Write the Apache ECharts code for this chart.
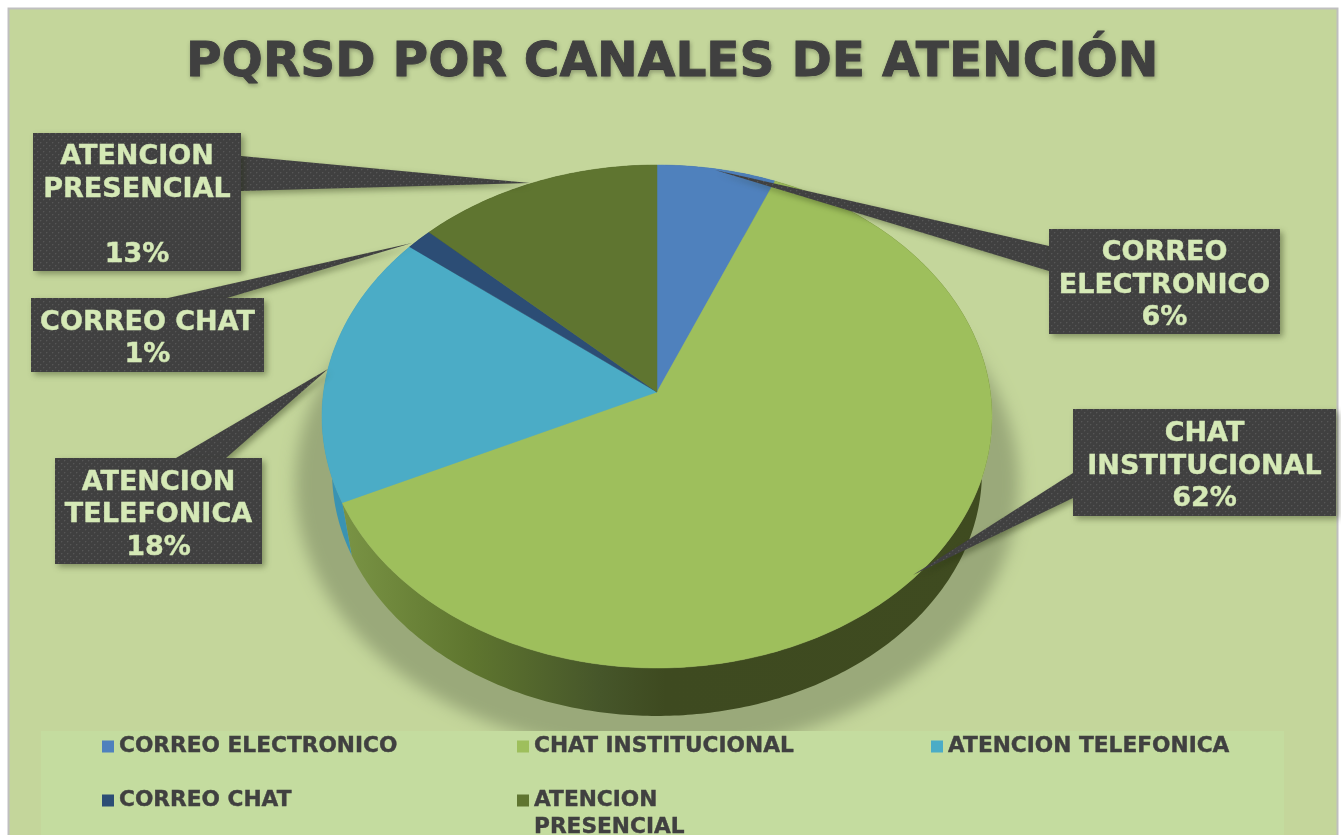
<!DOCTYPE html>
<html><head><meta charset="utf-8">
<style>html,body{margin:0;padding:0;background:#fff;overflow:hidden}#c{width:1341px;height:835px}</style>
<script src="https://cdn.jsdelivr.net/npm/echarts@6/dist/echarts.min.js"></script>
</head><body><div id="c"></div>
<script>
const titleText = 'PQRSD POR CANALES DE ATENCIÓN';
const categories = ['CORREO ELECTRONICO','CHAT INSTITUCIONAL','ATENCION TELEFONICA','CORREO CHAT','ATENCION PRESENCIAL'];
const values = [6.3, 61.7, 17.6, 1.4, 13.0];
const calloutNames = ['CORREO\nELECTRONICO','CHAT\nINSTITUCIONAL','ATENCION\nTELEFONICA','CORREO CHAT','ATENCION\nPRESENCIAL\n'];
const topColors = ['#4f81bd','#9ebf5c','#4bacc6','#2c4d75','#5f7530'];
const sideColors = ['#2f5a8e','#3f4b20','#3a93b2','#1d3553','#3f4b20'];
const boxes = [[1049,229,231,105],[1073,409,263,107],[55,458,207,106],[31,298,233,74],[33,133,208,138]];
const tails = [
  [[1049,246],[1049,271],[715,170]],
  [[1073,473],[1073,498],[913,575]],
  [[176,458],[226,458],[328,369]],
  [[168,298],[227,298],[412,243]],
  [[241,156],[241,191],[530,183]]
];
const legendSlots = [[102,732],[517,732],[931,732],[102,786],[517,759]];

// Pie geometry (perspective projection of a circle)
const cx=657, cy=392, A=333.4, B=249.1, P=0.0974;
const ecy=416.5, botCy=472, botS=0.97;
function rim(f){const a=2*Math.PI*f,u=Math.sin(a),v=-Math.cos(a),d=1-P*v;return [cx+A*u/d,cy+B*v/d];}
function rimLow(f){const p=rim(f);return [cx+(p[0]-cx)*botS,botCy+(p[1]-ecy)*botS];}
function arc(fn,f0,f1){const n=Math.max(2,Math.ceil((f1-f0)/0.002)),o=[];for(let i=0;i<=n;i++)o.push(fn(f0+(f1-f0)*i/n));return o;}
const total=values.reduce((a,b)=>a+b,0);

// dotted fill of the callouts
const pc=document.createElement('canvas');pc.width=6;pc.height=6;
const g=pc.getContext('2d');g.fillStyle='#404040';g.fillRect(0,0,6,6);
g.fillStyle='#565656';g.fillRect(1,1,1,1);g.fillRect(4,4,1,1);
g.fillStyle='#484848';g.fillRect(2,1,1,1);g.fillRect(1,2,1,1);g.fillRect(5,4,1,1);g.fillRect(4,5,1,1);
const dotted={image:pc,repeat:'repeat'};
const ink='#404040', lightInk='#d5e9b6', FONT='"DejaVu Sans"';

function sideFill(i){
  if(i!==1) return sideColors[i];
  return new echarts.graphic.LinearGradient(340,0,990,0,[
    {offset:0,color:'#7a9445'},{offset:.2,color:'#5f762f'},{offset:.4,color:'#46562a'},
    {offset:.5,color:'#3e4a20'},{offset:1,color:'#3f4b20'}],true);
}
function renderSlice(i){
  return function(params,api){
    let start=0;for(let k=0;k<i;k++)start+=values[k];
    const f0=start/total,f1=(start+api.value(0))/total;
    const top=arc(rim,f0,f1);
    const side=top.concat(arc(rimLow,f0,f1).reverse());
    const b=boxes[i];
    const label=calloutNames[i]+'\n'+Math.round(api.value(0))+'%';
    return {type:'group',children:[
      {type:'polygon',z2:1,shape:{points:side},style:{fill:sideFill(i)}},
      {type:'polygon',z2:2,shape:{points:[[cx,cy]].concat(top)},style:{fill:topColors[i],stroke:topColors[i],lineWidth:.5}},
      {type:'polygon',z2:5,shape:{points:tails[i]},style:{fill:dotted,shadowBlur:6,shadowOffsetX:3,shadowOffsetY:3,shadowColor:'rgba(30,40,10,.4)'}},
      {type:'rect',z2:6,shape:{x:b[0],y:b[1],width:b[2],height:b[3]},style:{fill:dotted,shadowBlur:6,shadowOffsetX:3,shadowOffsetY:3,shadowColor:'rgba(30,40,10,.4)'}},
      {type:'text',z2:7,style:{text:label,x:b[0]+b[2]/2,y:b[1]+b[3]/2+4,align:'center',verticalAlign:'middle',
        fill:lightInk,stroke:lightInk,lineWidth:.4,font:'bold 27px '+FONT,lineHeight:32.5}}
    ]};
  };
}
const series=[{
  type:'custom',name:'sombra',coordinateSystem:'none',z:1,silent:true,data:[[1]],
  renderItem(){
    // only the blurred shadow of this shape lands on the chart
    const off=3000;
    const pts=arc(f=>{const p=rim(f);return [cx+(p[0]-cx)*1.08-off,484+(p[1]-ecy)*1.07];},0,1);
    return {type:'polygon',shape:{points:pts},style:{fill:'#000',shadowBlur:16,shadowOffsetX:off,shadowColor:'#9aa97a'}};
  }
}];
categories.forEach((name,i)=>series.push({
  type:'custom',name,coordinateSystem:'none',z:3,silent:true,data:[[values[i]]],
  itemStyle:{color:topColors[i]},renderItem:renderSlice(i)
}));
const legends=categories.map((name,i)=>({
  left:legendSlots[i][0],top:legendSlots[i][1],data:[name],icon:'rect',itemWidth:12,itemHeight:12,itemGap:0,
  padding:0,selectedMode:false,
  formatter:n=>n==='ATENCION PRESENCIAL'?'\nATENCION\nPRESENCIAL':n,
  textStyle:{color:ink,fontFamily:FONT,fontWeight:'bold',fontSize:21.7,lineHeight:27,padding:[2,0,0,0],textBorderColor:ink,textBorderWidth:.4}
}));
const chart=echarts.init(document.getElementById('c'),null,{renderer:'canvas',width:1341,height:835});
chart.setOption({
  animation:false,backgroundColor:'#ffffff',
  title:{text:titleText,left:186,top:39,itemGap:0,padding:0,
    textStyle:{color:ink,fontFamily:FONT,fontWeight:'bold',fontSize:48.6,textBorderColor:ink,textBorderWidth:.8,textShadowBlur:4,textShadowOffsetX:1,textShadowOffsetY:2,textShadowColor:'rgba(0,0,0,.25)'}},
  legend:legends,
  graphic:[
    {type:'rect',z:-1,shape:{x:8.5,y:8.5,width:1329,height:840},style:{fill:'#c4d69b',stroke:'#bfbfbf',lineWidth:2}},
    {type:'rect',z:2,shape:{x:41,y:731,width:1243,height:110},style:{fill:'#c4dc9f'}}
  ],
  series
});
</script></body></html>
